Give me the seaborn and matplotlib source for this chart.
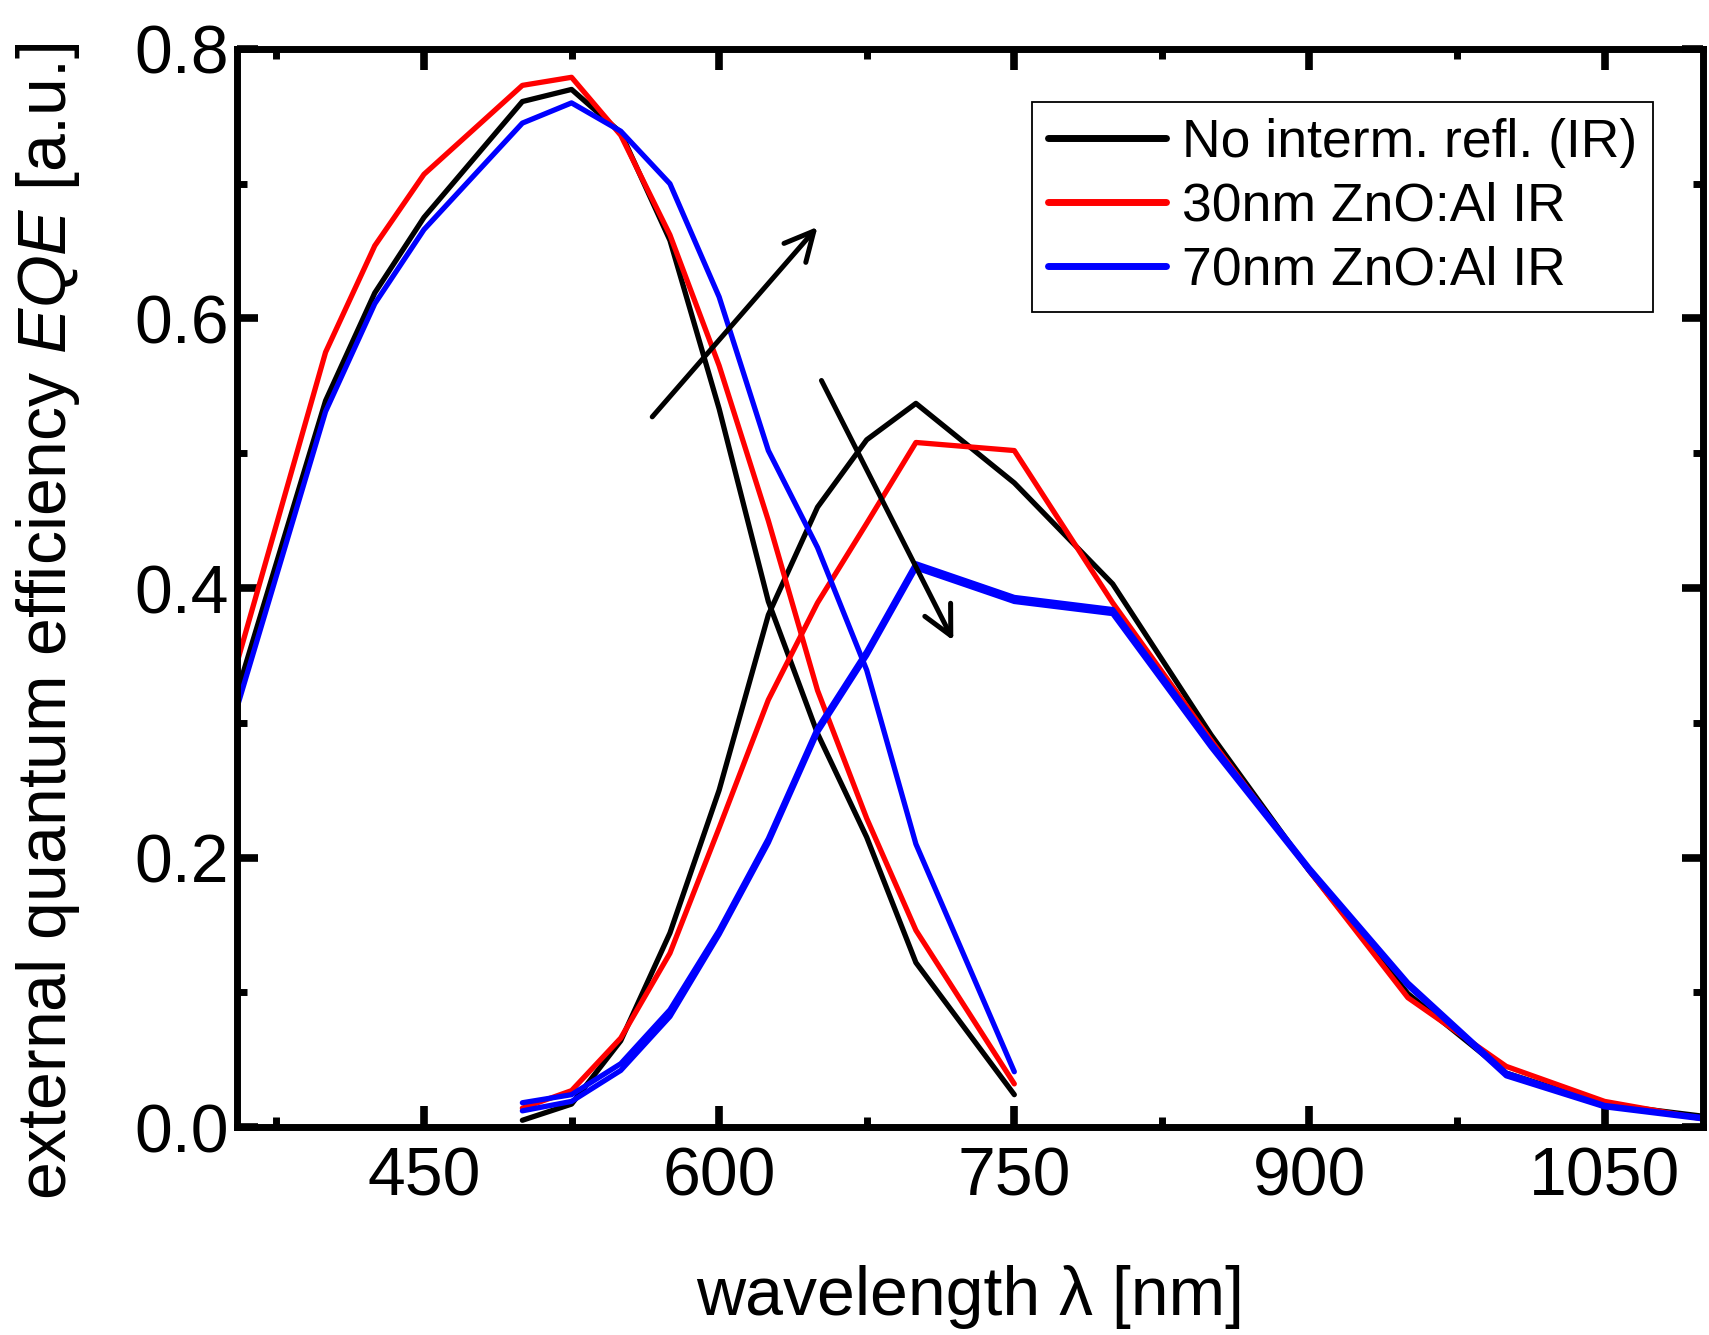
import matplotlib
matplotlib.use("Agg")
import matplotlib.pyplot as plt
import seaborn as sns
from matplotlib.ticker import MultipleLocator, FormatStrFormatter

# top cell (short wavelength) EQE
wl_top = [350, 400, 425, 450, 500, 525, 550, 575, 600, 625, 650, 675, 700, 750]
black_top = [0.298, 0.539, 0.619, 0.675, 0.761, 0.770, 0.738, 0.658, 0.533, 0.390, 0.292, 0.215, 0.122, 0.024]
red_top = [0.319, 0.575, 0.654, 0.707, 0.773, 0.779, 0.736, 0.662, 0.565, 0.450, 0.324, 0.229, 0.146, 0.032]
blue_top = [0.287, 0.531, 0.611, 0.666, 0.745, 0.760, 0.739, 0.700, 0.616, 0.502, 0.430, 0.339, 0.210, 0.041]

# bottom cell (long wavelength) EQE
wl_ir = [500, 525, 550, 575, 600, 625, 650, 675, 700, 750, 800, 850, 900, 950, 1000, 1050, 1100]
black_ir = [0.005, 0.017, 0.064, 0.144, 0.250, 0.380, 0.460, 0.510, 0.537, 0.478, 0.403, 0.291, 0.190, 0.099, 0.040, 0.017, 0.008]
red_ir = [0.014, 0.027, 0.066, 0.129, 0.222, 0.317, 0.389, 0.448, 0.508, 0.502, 0.389, 0.287, 0.190, 0.096, 0.045, 0.019, 0.006]
blue_ir = [0.018, 0.024, 0.047, 0.087, 0.146, 0.214, 0.296, 0.353, 0.418, 0.393, 0.384, 0.285, 0.192, 0.107, 0.040, 0.016, 0.007]
blue_ir2 = [0.012, 0.019, 0.042, 0.082, 0.143, 0.211, 0.293, 0.350, 0.415, 0.390, 0.381, 0.282, 0.190, 0.105, 0.038, 0.015, 0.006]

labels = ["No interm. refl. (IR)", "30nm ZnO:Al IR", "70nm ZnO:Al IR"]

sns.set_theme(style="ticks")
plt.rcParams['font.family'] = ['Liberation Sans', 'DejaVu Sans']
plt.rcParams['mathtext.fontset'] = 'custom'
plt.rcParams['mathtext.it'] = 'Liberation Sans:italic'
plt.rcParams['mathtext.rm'] = 'Liberation Sans'
for k in ['text.color', 'axes.labelcolor', 'xtick.color', 'ytick.color', 'axes.edgecolor']:
    plt.rcParams[k] = 'black'

fig = plt.figure(figsize=(17.09, 13.35), dpi=100)
ax = fig.add_axes([0.1387, 0.1558, 0.8578, 0.8075])

lw = 3.8
sns.lineplot(x=wl_top, y=black_top, color='black', lw=lw, sort=False, ax=ax)
sns.lineplot(x=wl_ir, y=black_ir, color='black', lw=lw, sort=False, ax=ax, label=labels[0])
sns.lineplot(x=wl_top, y=red_top, color='red', lw=lw, sort=False, ax=ax)
sns.lineplot(x=wl_ir, y=red_ir, color='red', lw=lw, sort=False, ax=ax, label=labels[1])
sns.lineplot(x=wl_top, y=blue_top, color='blue', lw=lw, sort=False, ax=ax)
sns.lineplot(x=wl_ir, y=blue_ir, color='blue', lw=lw, sort=False, ax=ax, label=labels[2])
sns.lineplot(x=wl_ir, y=blue_ir2, color='blue', lw=lw, sort=False, ax=ax)

# arrows
arrow = dict(arrowstyle="->,head_length=0.4,head_width=0.2", lw=3.6, color='black',
             mutation_scale=52, shrinkA=0, shrinkB=0)
ax.annotate("", xy=(650, 0.668), xytext=(566, 0.527), arrowprops=arrow)
ax.annotate("", xy=(719, 0.361), xytext=(652, 0.554), arrowprops=arrow)

ax.set_xlim(355, 1100)
ax.set_ylim(0, 0.8)
ax.xaxis.set_major_locator(MultipleLocator(150))
ax.xaxis.set_minor_locator(MultipleLocator(75))
ax.yaxis.set_major_locator(MultipleLocator(0.2))
ax.yaxis.set_minor_locator(MultipleLocator(0.1))
ax.yaxis.set_major_formatter(FormatStrFormatter('%.1f'))

for s in ax.spines.values():
    s.set_linewidth(5)
    s.set_color('black')

ax.tick_params(which='both', direction='in', top=True, right=True, color='black', labelcolor='black')
ax.tick_params(which='major', length=15, width=5.5, labelsize=49)
ax.tick_params(axis='x', which='major', pad=13)
ax.tick_params(axis='y', which='major', pad=6)
ax.tick_params(which='minor', length=7, width=5)

ax.set_xlabel('wavelength λ [nm]', fontsize=49)
ax.xaxis.set_label_coords(0.5, -0.128)
ax.set_ylabel('external quantum efficiency $EQE$ [a.u.]', fontsize=49)
ax.yaxis.set_label_coords(-0.106, 0.469)

handles, labs = ax.get_legend_handles_labels()
leg = ax.legend(handles, labs, loc='upper right', bbox_to_anchor=(0.966, 0.951),
                borderaxespad=0, fontsize=38.5, frameon=True, fancybox=False,
                edgecolor='black', framealpha=1, handlelength=2.2, handletextpad=0.3,
                labelspacing=0.26, borderpad=0.3)
leg.get_frame().set_linewidth(1.3)
for line in leg.get_lines():
    line.set_linewidth(5)

fig.savefig('out.png', dpi=100)
